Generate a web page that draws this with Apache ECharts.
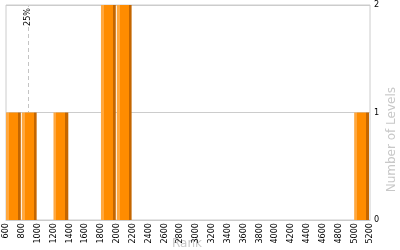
<!DOCTYPE html>
<html><head><meta charset="utf-8">
<script src="https://cdn.jsdelivr.net/npm/echarts@6/dist/echarts.min.js"></script>
<style>html,body{margin:0;padding:0;background:#fff}#c{width:400px;height:250px}</style>
</head><body><div id="c"></div>
<script>
const binStarts = [600, 800, 1200, 1800, 2000, 5000];
const binEnds   = [800, 1000, 1400, 2000, 2200, 5200];
const counts    = [1, 1, 1, 2, 2, 1];
const xMin = 600, xMax = 5200, xStep = 200;
const yTicks = [0, 1, 2];
const marker25 = 878;
const markerLabel = '25%';
const xName = 'Rank';
const yName = 'Number of Levels';

const chart = echarts.init(document.getElementById('c'), null, {renderer:'canvas'});
const fill = new echarts.graphic.LinearGradient(0,0,1,0,[
  {offset:0,color:'#FFA83F'},{offset:0.2,color:'#FFA83F'},
  {offset:0.2,color:'#FF8C00'},{offset:0.8,color:'#FF8C00'},
  {offset:0.8,color:'#C46600'},{offset:1,color:'#C46600'}]);
const fontF = "'DejaVu Sans Condensed','Liberation Sans',sans-serif";
chart.setOption({
  animation:false,
  grid:{left:6,right:30,top:5,bottom:30,show:true,borderColor:'#cccccc',borderWidth:1,
    containLabel:false,outerBoundsMode:'none'},
  xAxis:{type:'value',min:xMin,max:xMax,interval:xStep,z:5,
    axisLine:{show:true,lineStyle:{color:'#cccccc'}},axisTick:{show:false},splitLine:{show:false},
    axisLabel:{rotate:90,color:'#000',fontSize:9,fontFamily:fontF,margin:3,
      formatter:function(v){return String(v);}}},
  yAxis:{type:'value',position:'right',min:yTicks[0],max:yTicks[yTicks.length-1],interval:1,
    axisLine:{show:false},axisTick:{show:false},
    splitLine:{show:true,lineStyle:{color:'#cccccc'}},
    axisLabel:{color:'#000',fontSize:9,fontFamily:fontF,margin:4}},
  graphic:[
    {type:'text',left:386,top:87,rotation:Math.PI/2,z:-1,
      style:{text:yName,fill:'#c8c8c8',font:"12px 'DejaVu Sans'"}},
    {type:'text',left:172,top:238,z:-1,
      style:{text:xName,fill:'#c8c8c8',font:"12px 'DejaVu Sans'"}}],
  series:[{type:'custom',z:3,
    data:binStarts.map((s,i)=>[s,binEnds[i],counts[i]]),
    encode:{x:[0,1],y:2},
    renderItem:function(params,api){
      const p0=api.coord([api.value(0),api.value(2)]);
      const p1=api.coord([api.value(1),0]);
      return {type:'rect',shape:{x:p0[0],y:p0[1],width:p1[0]-p0[0]-1,height:p1[1]-p0[1]},
        style:{fill:fill}};
    },
    markLine:{silent:true,symbol:'none',z:1,
      lineStyle:{color:'#c4c4c4',type:[4,3],width:1},
      label:{show:true,position:'insideEnd',formatter:markerLabel,color:'#000',fontSize:9,fontFamily:fontF,
        backgroundColor:'#fff',padding:[2,1],distance:2},
      data:[[{coord:[marker25,0]},{coord:[marker25,2]}]]}
  }]
});
</script></body></html>
